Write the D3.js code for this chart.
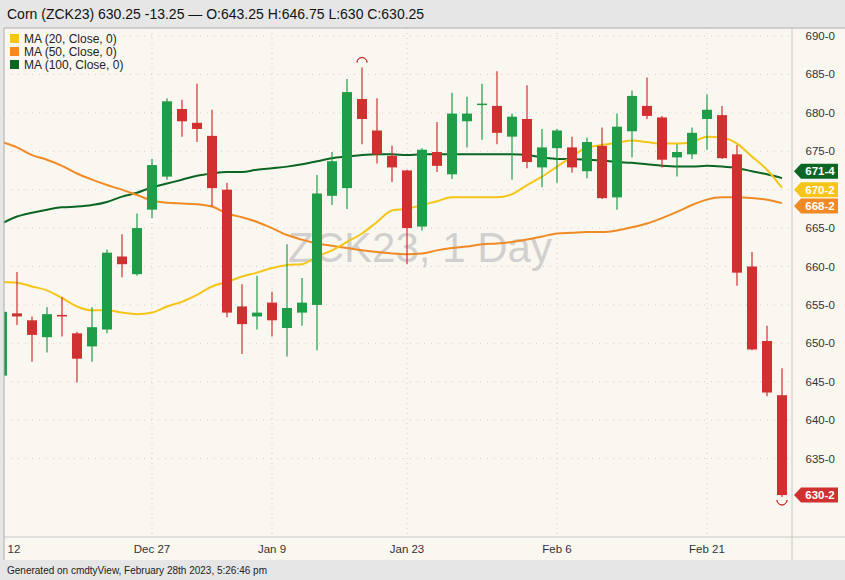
<!DOCTYPE html>
<html><head><meta charset="utf-8">
<script src="https://cdn.jsdelivr.net/npm/d3@7"></script>
<style>body{margin:0;background:#e6e6e6;font-family:"Liberation Sans",Arial,sans-serif;}</style>
</head><body>
<svg id="chart" width="845" height="580"></svg>
<script>
// Daily OHLC, index 0 = Dec 12
const opens  = [645.8,653.9,653,650.8,653.7,651.3,649.6,651.8,661.3,659,667.4,671.7,680.5,678.7,677,670,654.8,653.5,655.3,652,654,655,669.2,670.2,681.8,677.7,674.4,672.5,665.2,674.9,672,678.9,681.1,680.9,676.9,679.2,672.9,675.4,675.5,672.4,675.7,669,677.6,680.9,679.4,674.2,674.6,679.2,679.7,674.6,660,650.3,643.25];
const highs  = [655,659.3,653.5,654.7,656,651.5,654.7,662.2,664.2,666.9,674,681.9,681.7,683.8,680.4,670.9,657.7,658.8,656.7,662.9,658.5,671.9,674.9,684.4,685.9,681.9,675.7,672.6,675.4,678.8,682.6,682.1,683.8,685.4,679.9,683.6,677.9,677.9,676.9,676.8,678.1,679.9,682.9,684.6,679.6,675.9,678.1,682.4,680.9,675.8,661.9,652.3,646.75];
const lows   = [645.5,652.4,647.6,648.8,650.9,644.9,647.6,651.3,658.6,658.8,666.3,671.3,676.9,676.2,667.8,653.4,648.6,651.8,650.9,648.3,652.3,649.1,668,667.5,675.9,673.4,671,660.3,664.7,672.3,671.4,675.5,676.5,675.9,671.3,672.8,670.3,670.9,672.2,671.5,668.8,667.4,674.2,679.2,672.9,671.7,674,675.2,674,657.5,649.1,643.1,630];
const closes = [654.1,653.5,651.1,653.8,653.5,648,652.1,661.8,660.3,665,673.2,681.5,678.9,677.9,670.2,654,652.5,654,653,654.6,655.3,669.5,673.7,682.7,679.2,674.6,672.9,665,675.2,673.1,679.9,679.9,681.2,677.4,679.5,673.6,675.5,677.7,672.9,676.2,668.9,678.2,682.2,679.6,673.9,674.9,677.4,680.4,674.1,659.2,649.2,643.6,630.25];

// Moving averages
const ma20  = [658,657.9,657.4,656.9,655.9,654.8,654.3,654.3,654,653.8,654,654.8,655.4,656.3,657.4,658,658.7,659.2,659.8,660.2,660.3,661.3,662.1,663.2,664.3,665.8,667.3,667.5,668,668.5,669,669,669,669,669.4,670.6,671.7,673,674.3,675.5,675.8,676.1,676.4,676.2,676,676,676.2,676.9,676.8,676,674.3,672.6,670.25];
const ma50  = [676.2,675.5,674.5,673.9,673.1,672.1,671.3,670.6,670,669.3,668.6,668.3,668.2,668.1,667.8,666.9,666.4,665.8,665,664.1,663.5,663,662.7,662.4,662.1,661.9,661.7,661.6,661.7,662.1,662.4,662.6,662.9,663,663.2,663.5,663.9,664.3,664.4,664.5,664.5,664.7,665.1,665.6,666.3,667.1,668,668.7,669,669,668.9,668.7,668.25];
const ma100 = [665.6,666.5,667,667.4,667.7,667.8,668,668.4,669.1,669.6,670.3,670.8,671.3,671.8,672.1,672.3,672.3,672.6,672.8,673,673.3,673.7,674.1,674.3,674.5,674.6,674.6,674.5,674.6,674.6,674.6,674.6,674.6,674.6,674.6,674.5,674.2,674,674,673.9,673.8,673.6,673.5,673.3,673.1,673,673,673.1,673,672.8,672.4,672,671.5];

const priceTicks = [635,640,645,650,655,660,665,670,675,680,685,690];
const dateTicks = [[0,"12"],[10,"Dec 27"],[18,"Jan 9"],[27,"Jan 23"],[37,"Feb 6"],[47,"Feb 21"]];
const maNames = ["MA (20, Close, 0)","MA (50, Close, 0)","MA (100, Close, 0)"];
const maColors = ["#f5c518","#f08a24","#0b6623"];

const UP = "#1f9d48", DOWN = "#d0302f";
const pLeft = 4, pRight = 792, pTop = 28, pBottom = 537;

const svg = d3.select("#chart");
const x = d3.scaleLinear().domain([0,52]).range([2,782]);
const y = d3.scaleLinear().domain([630,690]).range([497,36]);
const fmt = p => Math.floor(p) + "-" + Math.round((p - Math.floor(p)) * 8);

svg.append("rect").attr("width",845).attr("height",580).attr("fill","#e6e6e6");
svg.append("rect").attr("x",pLeft).attr("y",pTop).attr("width",845-pLeft).attr("height",pBottom-pTop+23).attr("fill","#faf7f0");
svg.append("text").attr("x",7).attr("y",19).attr("font-size",14).attr("fill","#111")
  .text("Corn (ZCK23) 630.25 -13.25 \u2014 O:643.25 H:646.75 L:630 C:630.25");

svg.append("clipPath").attr("id","plotclip").append("rect")
  .attr("x",pLeft).attr("y",pTop).attr("width",pRight-pLeft).attr("height",pBottom-pTop);
const plot = svg.append("g").attr("clip-path","url(#plotclip)");

// grid
plot.selectAll(".hg").data(priceTicks).enter().append("line")
  .attr("x1",pLeft).attr("x2",pRight).attr("y1",d=>y(d)).attr("y2",d=>y(d))
  .attr("stroke","#cfcfcf").attr("stroke-dasharray","1,6");
plot.selectAll(".vg").data(dateTicks.slice(1)).enter().append("line")
  .attr("x1",d=>x(d[0])).attr("x2",d=>x(d[0])).attr("y1",pTop).attr("y2",pBottom)
  .attr("stroke","#cfcfcf").attr("stroke-dasharray","1,4");

// watermark
plot.append("text").attr("x",420).attr("y",262).attr("text-anchor","middle")
  .attr("font-size",42).attr("fill","#c4c4c4").attr("fill-opacity",0.75).text("ZCK23, 1 Day");

// moving averages
[ma100, ma50, ma20].forEach((s,k) => {
  plot.append("path").datum(s)
    .attr("d", d3.line().x((d,i)=>x(i)).y(d=>y(d)).curve(d3.curveMonotoneX))
    .attr("fill","none").attr("stroke", maColors[2-k]).attr("stroke-width",2);
});

// candles
const idx = d3.range(opens.length);
const c = plot.selectAll(".c").data(idx).enter().append("g")
  .attr("fill",i=>closes[i]>=opens[i]?UP:DOWN).attr("stroke",i=>closes[i]>=opens[i]?UP:DOWN);
c.append("line").attr("x1",i=>x(i)).attr("x2",i=>x(i))
  .attr("y1",i=>y(highs[i])).attr("y2",i=>y(lows[i])).attr("stroke-width",1.2);
c.append("rect").attr("x",i=>x(i)-5).attr("width",10).attr("stroke","none")
  .attr("y",i=>y(Math.max(opens[i],closes[i])))
  .attr("height",i=>Math.max(1.5, Math.abs(y(opens[i])-y(closes[i]))));

// high / low markers
const hiI = d3.maxIndex(highs), loI = d3.minIndex(lows);
plot.append("path").attr("d", d3.arc()({innerRadius:5,outerRadius:5,startAngle:-Math.PI/2,endAngle:Math.PI/2}))
  .attr("transform",`translate(${x(hiI)},${y(highs[hiI])-5})`).attr("stroke",DOWN).attr("fill","none");
plot.append("path").attr("d", d3.arc()({innerRadius:5,outerRadius:5,startAngle:Math.PI/2,endAngle:Math.PI*1.5}))
  .attr("transform",`translate(${x(loI)},${y(lows[loI])+3})`).attr("stroke",DOWN).attr("fill","none");

// frame
svg.append("line").attr("x1",pRight).attr("x2",pRight).attr("y1",pTop).attr("y2",pBottom+23).attr("stroke","#c8c8c8");
svg.append("line").attr("x1",pLeft).attr("x2",845).attr("y1",pBottom).attr("y2",pBottom).attr("stroke","#c8c8c8");
svg.append("line").attr("x1",pLeft).attr("x2",pLeft).attr("y1",pTop).attr("y2",pBottom+23).attr("stroke","#b0b0b0");
svg.append("line").attr("x1",pLeft).attr("x2",845).attr("y1",pTop).attr("y2",pTop).attr("stroke","#b0b0b0");

// right axis
svg.append("g").selectAll("text").data(priceTicks).enter().append("text")
  .attr("x",835).attr("y",d=>y(d)+4).attr("text-anchor","end").attr("font-size",11.5).attr("fill","#333")
  .text(fmt);

// last value tags (nudged apart so their labels stay readable)
const tags = [[ma100[52], maColors[2], -7],[ma20[52], maColors[0], 2],[ma50[52], maColors[1], 3],[closes[52], DOWN, 0]];
tags.forEach(t => {
  const ty = y(t[0]) + t[2];
  const g = svg.append("g").attr("transform",`translate(794,${ty})`);
  g.append("path").attr("d","M0,0 L7,-7.5 L44,-7.5 L44,7.5 L7,7.5 Z").attr("fill",t[1]);
  g.append("text").attr("x",26).attr("y",4).attr("text-anchor","middle").attr("font-size",11.5)
    .attr("font-weight","bold").attr("fill","#fff").text(fmt(t[0]));
});

// bottom axis
svg.selectAll(".dt").data(dateTicks).enter().append("text")
  .attr("x",d=>d[0]===0?14:x(d[0])).attr("y",553).attr("text-anchor","middle")
  .attr("font-size",11.5).attr("fill","#333").text(d=>d[1]);

// legend
const lg = svg.append("g").attr("transform","translate(10,34)");
maNames.forEach((n,k) => {
  lg.append("rect").attr("x",0).attr("y",k*13).attr("width",9).attr("height",9).attr("fill",maColors[k]);
  lg.append("text").attr("x",14).attr("y",k*13+9).attr("font-size",12).attr("fill","#222").text(n);
});

// footer
svg.append("rect").attr("x",0).attr("y",561).attr("width",845).attr("height",19).attr("fill","#e6e6e6");
svg.append("text").attr("x",7).attr("y",574).attr("font-size",10).attr("fill","#222")
  .text("Generated on cmdtyView, February 28th 2023, 5:26:46 pm");
</script>
</body></html>
